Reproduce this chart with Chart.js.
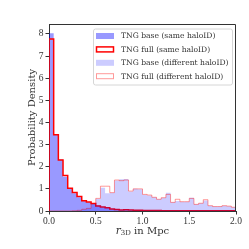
<!DOCTYPE html>
<html>
<head>
<meta charset="utf-8">
<script src="https://cdn.jsdelivr.net/npm/chart.js@4/dist/chart.umd.min.js"></script>
<style>
  html, body { margin: 0; padding: 0; background: #fff; }
  #wrap { width: 249px; height: 249px; }
</style>
</head>
<body>
<div id="wrap"><canvas id="c" width="249" height="249"></canvas></div>
<script>
// bin edges (0.05 Mpc bins)
const binEdges = [0.00, 0.05, 0.10, 0.15, 0.20, 0.25, 0.30, 0.35, 0.40, 0.45,
  0.50, 0.55, 0.60, 0.65, 0.70, 0.75, 0.80, 0.85, 0.90, 0.95,
  1.00, 1.05, 1.10, 1.15, 1.20, 1.25, 1.30, 1.35, 1.40, 1.45,
  1.50, 1.55, 1.60, 1.65, 1.70, 1.75, 1.80, 1.85, 1.90, 1.95, 2.00];

const baseSame = [8.03, 3.47, 2.33, 1.55, 1.00, 0.80, 0.62, 0.45, 0.40, 0.33,
  0.25, 0.17, 0.14, 0.09, 0.07, 0.05, 0.05, 0.04, 0.03, 0.03,
  0.02, 0.02, 0.02, 0.01, 0.01, 0.01, 0.01, 0.01, 0.01, 0.01,
  0.01, 0.01, 0.01, 0.01, 0.01, 0.01, 0.01, 0.01, 0.01, 0.01];

const fullSame = [7.77, 3.44, 2.31, 1.60, 1.03, 0.84, 0.66, 0.46, 0.41, 0.34,
  0.23, 0.18, 0.15, 0.09, 0.07, 0.05, 0.06, 0.04, 0.03, 0.03,
  0.02, 0.02, 0.02, 0.02, 0.01, 0.01, 0.01, 0.01, 0.01, 0.01,
  0.01, 0.01, 0.01, 0.01, 0.01, 0.01, 0.01, 0.01, 0.01, 0.01];

const baseDiff = [0.00, 0.00, 0.00, 0.00, 0.00, 0.01, 0.03, 0.08, 0.12, 0.33,
  0.55, 1.05, 0.80, 0.82, 1.38, 1.43, 1.45, 0.88, 1.00, 0.98,
  0.73, 0.70, 0.62, 0.53, 0.60, 0.82, 0.40, 0.45, 0.42, 0.42,
  0.60, 0.30, 0.35, 0.47, 0.24, 0.20, 0.20, 0.24, 0.22, 0.17];

const fullDiff = [0.00, 0.00, 0.00, 0.00, 0.00, 0.01, 0.03, 0.08, 0.12, 0.33,
  0.57, 1.12, 1.12, 0.83, 1.40, 1.37, 1.40, 0.90, 1.00, 1.00,
  0.75, 0.72, 0.62, 0.53, 0.60, 0.75, 0.39, 0.53, 0.42, 0.42,
  0.57, 0.30, 0.35, 0.51, 0.24, 0.20, 0.20, 0.24, 0.22, 0.17];

const xTicks = [0.0, 0.5, 1.0, 1.5, 2.0];
const yTicks = [0, 1, 2, 3, 4, 5, 6, 7, 8];
const labels = ['TNG base (same haloID)', 'TNG full (same haloID)',
  'TNG base (different haloID)', 'TNG full (different haloID)'];

const TICKFONT = '"Liberation Serif", serif';
const TEXTFONT = '"DejaVu Serif", serif';
const INK = '#333';

// step outline: start at 0, one point per bin left edge, close down at the last edge
function stepPoints(vals) {
  const pts = [{ x: binEdges[0], y: 0 }];
  vals.forEach((v, i) => pts.push({ x: binEdges[i], y: v }));
  pts.push({ x: binEdges[binEdges.length - 1], y: vals[vals.length - 1] });
  pts.push({ x: binEdges[binEdges.length - 1], y: 0 });
  return pts;
}

const frameAndLegend = {
  id: 'frameAndLegend',
  afterDraw(chart) {
    const { ctx, chartArea: a } = chart;
    ctx.save();
    // top + right spines
    ctx.strokeStyle = INK;
    ctx.lineWidth = 1;
    ctx.beginPath();
    ctx.moveTo(a.left, a.top + 0.5);
    ctx.lineTo(a.right - 0.5, a.top + 0.5);
    ctx.lineTo(a.right - 0.5, a.bottom);
    ctx.stroke();

    // legend box
    const lx = 93, ly = 28.5, lw = 139, lh = 56;
    ctx.fillStyle = 'rgba(255,255,255,0.8)';
    ctx.strokeStyle = '#d6d6d6';
    ctx.beginPath();
    ctx.roundRect(lx + 0.5, ly + 0.5, lw, lh, 2);
    ctx.fill();
    ctx.stroke();

    const ds = chart.data.datasets;
    ctx.font = '7.6px ' + TEXTFONT;
    ctx.textBaseline = 'middle';
    ds.forEach((d, i) => {
      const cy = 36 + i * 13.4;
      if (d.fill) {
        ctx.fillStyle = d.backgroundColor;
        ctx.fillRect(96, cy - 3, 18, 6);
      } else {
        ctx.strokeStyle = d.borderColor;
        ctx.lineWidth = d.borderWidth;
        ctx.strokeRect(96.5, cy - 2.5, 17, 5);
      }
      ctx.fillStyle = INK;
      ctx.fillText(d.label, 121, cy + 0.5);
    });

    // axis titles
    ctx.fillStyle = INK;
    ctx.font = '10px ' + TEXTFONT;
    ctx.textAlign = 'center';
    ctx.save();
    ctx.translate(32, (a.top + a.bottom) / 2);
    ctx.rotate(-Math.PI / 2);
    ctx.fillText('Probability Density', 0, 0);
    ctx.restore();

    // x title: r_3D in Mpc
    ctx.textAlign = 'left';
    const r = 'r', sub = '3D', rest = ' in Mpc';
    ctx.font = 'italic 10.5px ' + TEXTFONT;
    const rW = ctx.measureText(r).width;
    ctx.font = '7px ' + TEXTFONT;
    const subW = ctx.measureText(sub).width;
    ctx.font = '10px ' + TEXTFONT;
    const restW = ctx.measureText(rest).width;
    const x0 = (a.left + a.right) / 2 - (rW + subW + restW) / 2;
    const by = 231;
    ctx.font = 'italic 10.5px ' + TEXTFONT;
    ctx.fillText(r, x0, by);
    ctx.font = '7px ' + TEXTFONT;
    ctx.fillText(sub, x0 + rW, by + 2.5);
    ctx.font = '10px ' + TEXTFONT;
    ctx.fillText(rest, x0 + rW + subW, by);
    ctx.restore();
  }
};

new Chart(document.getElementById('c'), {
  type: 'line',
  data: {
    datasets: [
      {
        label: labels[0], data: stepPoints(baseSame), stepped: true,
        fill: 'origin', backgroundColor: 'rgba(0,0,255,0.4)',
        borderColor: 'rgba(0,0,0,0)', borderWidth: 0, pointRadius: 0, order: 4
      },
      {
        label: labels[1], data: stepPoints(fullSame), stepped: true,
        fill: false, borderColor: '#ff0000', borderWidth: 1.5, pointRadius: 0, order: 3
      },
      {
        label: labels[2], data: stepPoints(baseDiff), stepped: true,
        fill: 'origin', backgroundColor: 'rgba(0,0,255,0.2)',
        borderColor: 'rgba(0,0,0,0)', borderWidth: 0, pointRadius: 0, order: 2
      },
      {
        label: labels[3], data: stepPoints(fullDiff), stepped: true,
        fill: false, borderColor: 'rgba(255,0,0,0.4)', borderWidth: 1, pointRadius: 0, order: 1
      }
    ]
  },
  options: {
    responsive: false,
    animation: false,
    layout: { padding: { left: 0, top: 24, right: 13, bottom: 0 } },
    plugins: { legend: { display: false }, tooltip: { enabled: false } },
    elements: { line: { tension: 0 } },
    scales: {
      x: {
        type: 'linear', min: 0, max: 2,
        afterBuildTicks: s => { s.ticks = xTicks.map(v => ({ value: v })); },
        afterFit: s => { s.height = 38; },
        ticks: {
          color: INK, font: { family: TICKFONT, size: 9.5 }, padding: 1,
          maxRotation: 0, callback: v => v.toFixed(1)
        },
        grid: { drawOnChartArea: false, drawTicks: true, tickLength: 3.5, color: INK },
        border: { display: true, color: INK }
      },
      y: {
        type: 'linear', min: 0, max: 8.45,
        afterBuildTicks: s => { s.ticks = yTicks.map(v => ({ value: v })); },
        afterFit: s => { s.width = 49; },
        ticks: { color: INK, font: { family: TICKFONT, size: 9.5 }, padding: 2 },
        grid: { drawOnChartArea: false, drawTicks: true, tickLength: 3.5, color: INK },
        border: { display: true, color: INK }
      }
    }
  },
  plugins: [frameAndLegend]
});
</script>
</body>
</html>
